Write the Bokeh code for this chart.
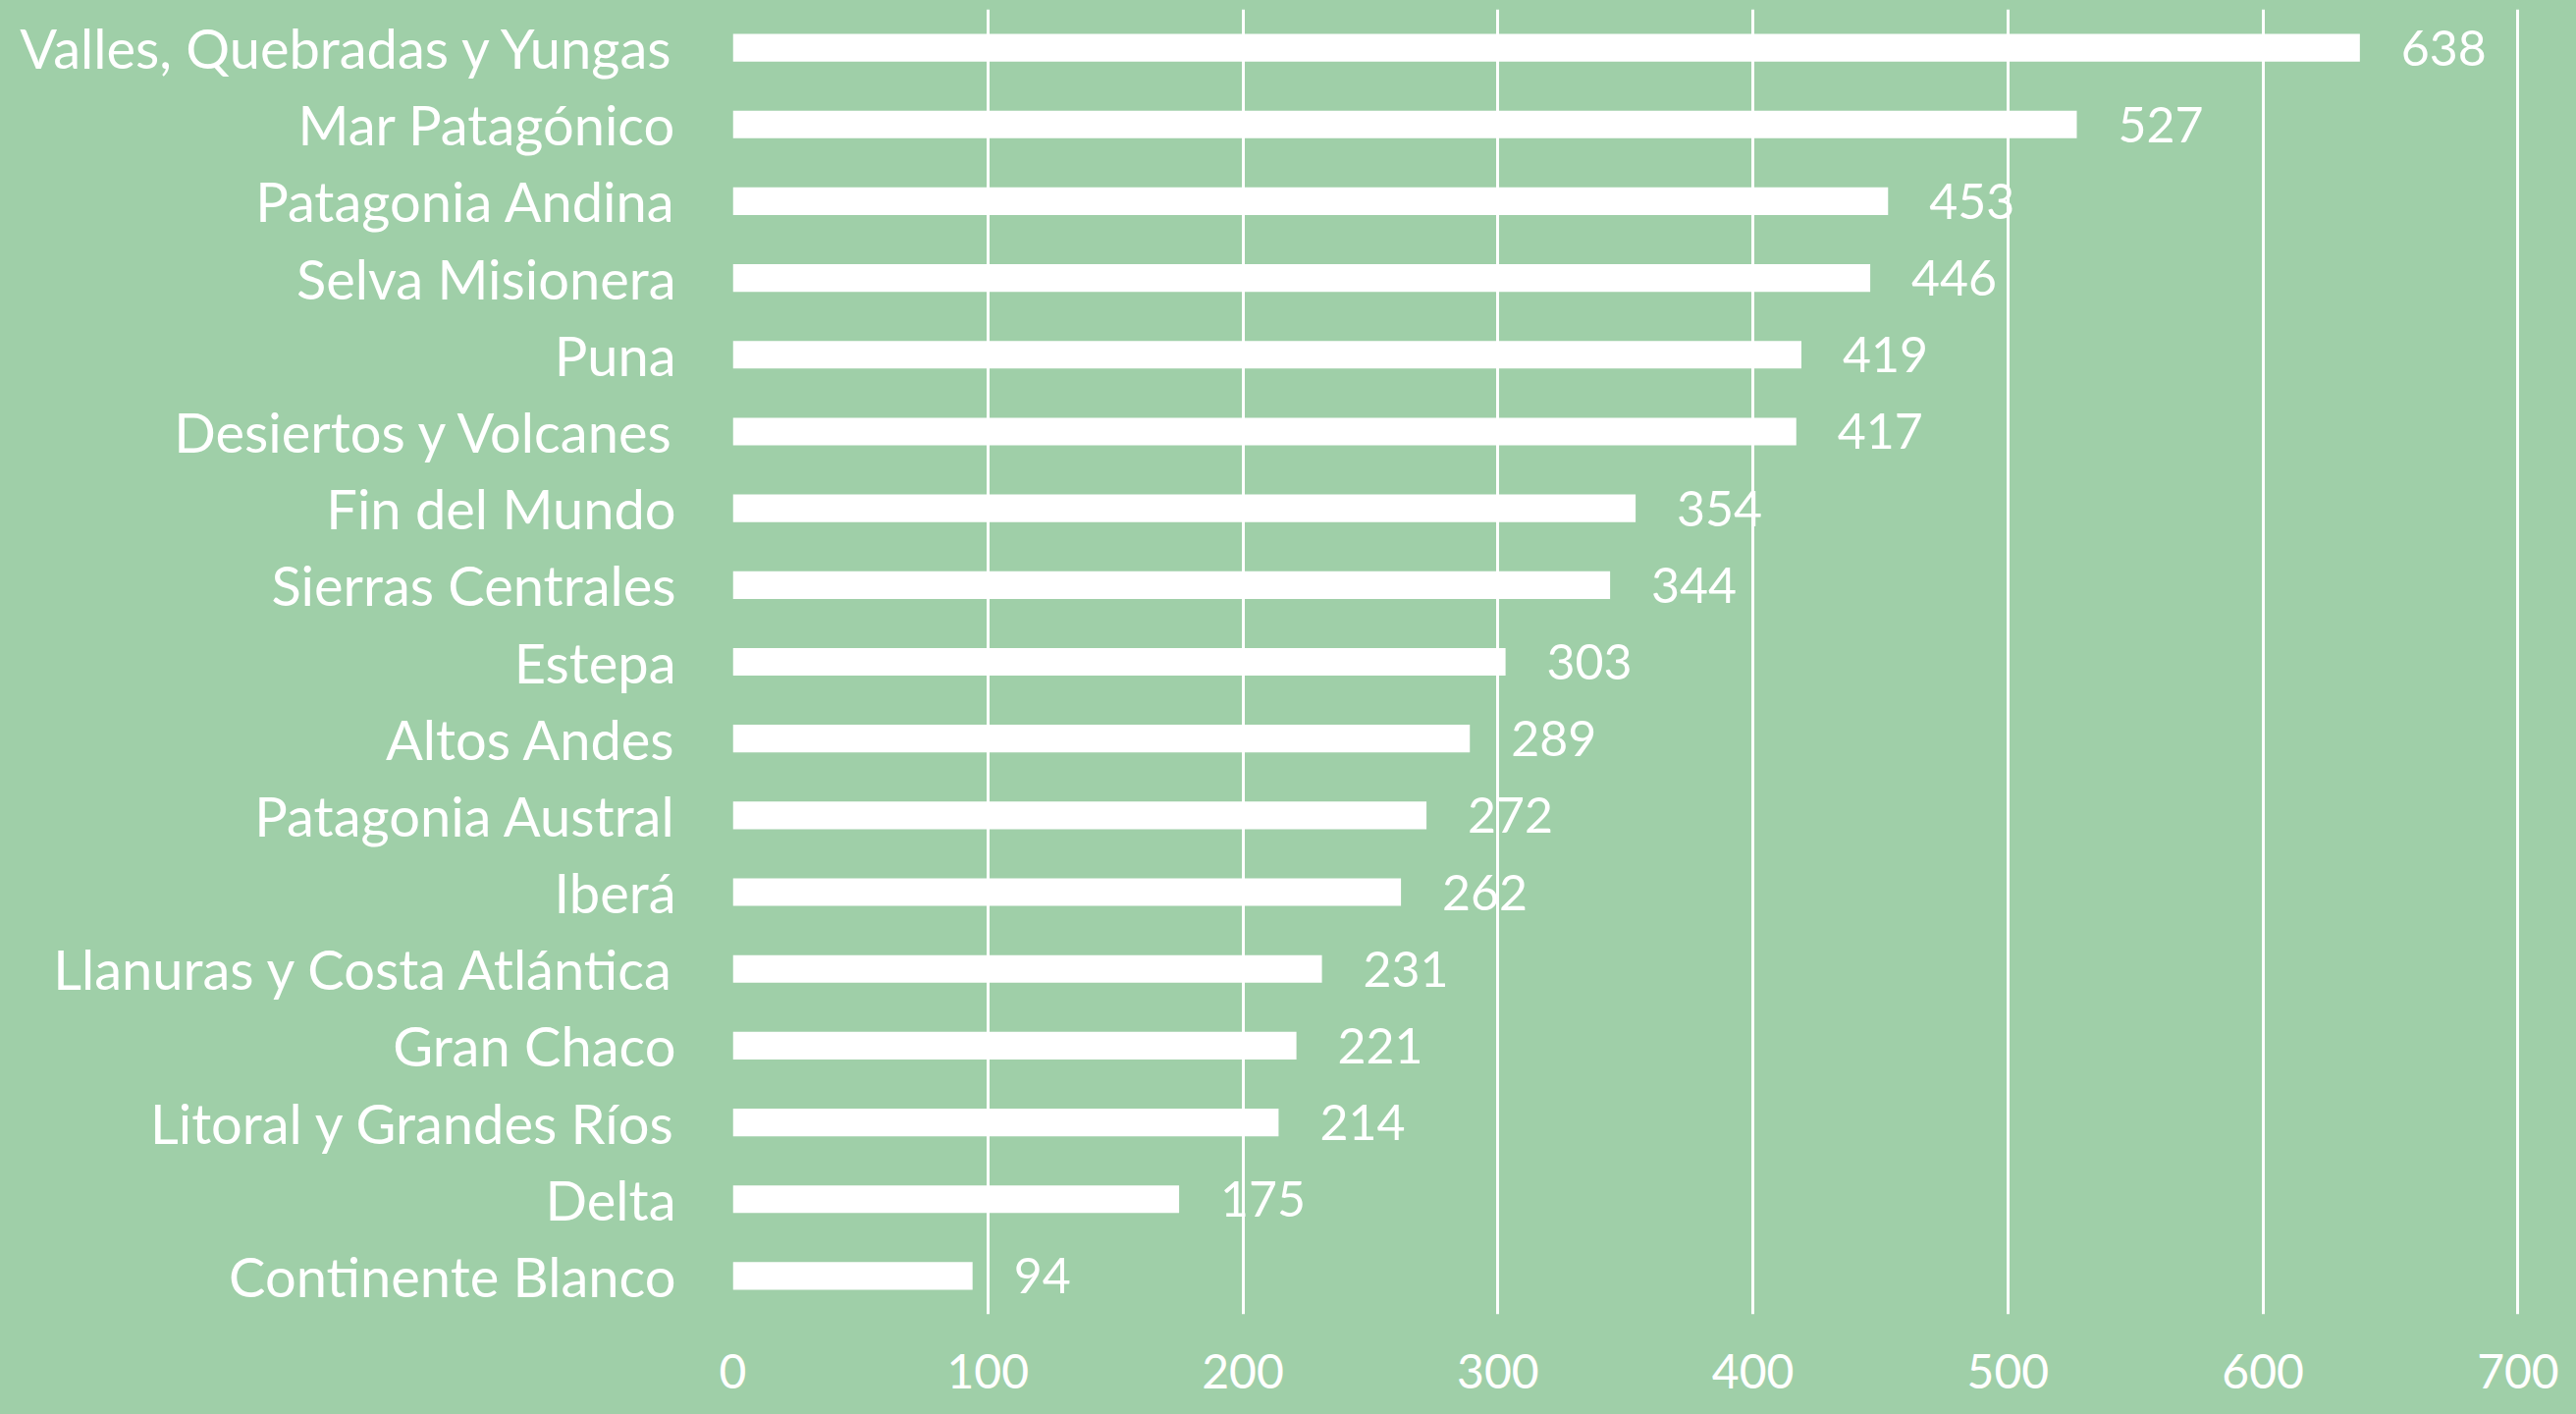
from bokeh.plotting import figure
from bokeh.models import ColumnDataSource, Range1d, FactorRange, FixedTicker
from bokeh.core.properties import value
from bokeh.embed import file_html
from bokeh.resources import INLINE

categories = [
    "Valles, Quebradas y Yungas", "Mar Patagónico", "Patagonia Andina",
    "Selva Misionera", "Puna", "Desiertos y Volcanes", "Fin del Mundo",
    "Sierras Centrales", "Estepa", "Altos Andes", "Patagonia Austral",
    "Iberá", "Llanuras y Costa Atlántica", "Gran Chaco",
    "Litoral y Grandes Ríos", "Delta", "Continente Blanco",
]
values = [638, 527, 453, 446, 419, 417, 354, 344, 303, 289, 272, 262, 231, 221, 214, 175, 94]
x_ticks = [0, 100, 200, 300, 400, 500, 600, 700]

BG = "#9FCFA8"
FONT = "Lato"
FS_CAT = "56px"
FS_VAL = "50px"
FS_TICK = "48px"

source = ColumnDataSource(dict(cat=categories, val=values, lbl=[str(v) for v in values]))

p = figure(
    width=2608, height=1424,
    x_range=Range1d(0, 701),
    y_range=FactorRange(*reversed(categories), range_padding=0),
    output_backend="svg", toolbar_location=None,
    min_border_left=746, min_border_right=41, min_border_top=9, min_border_bottom=86,
)
p.background_fill_color = BG
p.border_fill_color = BG
p.outline_line_color = None

p.hbar(y="cat", right="val", left=0, height=0.36, source=source,
       fill_color="white", line_color=None)
p.text(x="val", y="cat", text="lbl", source=source, x_offset=42,
       text_align="left", text_baseline="middle", text_color="white",
       text_font=value(FONT), text_font_size=FS_VAL)

p.xgrid.ticker = FixedTicker(ticks=x_ticks)
p.xgrid.grid_line_color = "white"
p.xgrid.grid_line_width = 3
p.ygrid.grid_line_color = None

p.xaxis.ticker = FixedTicker(ticks=x_ticks)
for ax in (p.xaxis[0], p.yaxis[0]):
    ax.axis_line_color = None
    ax.major_tick_line_color = None
    ax.minor_tick_line_color = None
    ax.major_tick_out = 0
    ax.major_tick_in = 0
    ax.major_label_text_color = "white"
    ax.major_label_text_font = FONT
p.xaxis.major_label_text_font_size = FS_TICK
p.yaxis.major_label_text_font_size = FS_CAT
p.xaxis.major_label_standoff = 40
p.yaxis.major_label_standoff = 58

html = file_html(p, INLINE)
html = html.replace("<head>", "<head><style>html,body{background:%s;}</style>" % BG, 1)
open("out.html", "w").write(html)
